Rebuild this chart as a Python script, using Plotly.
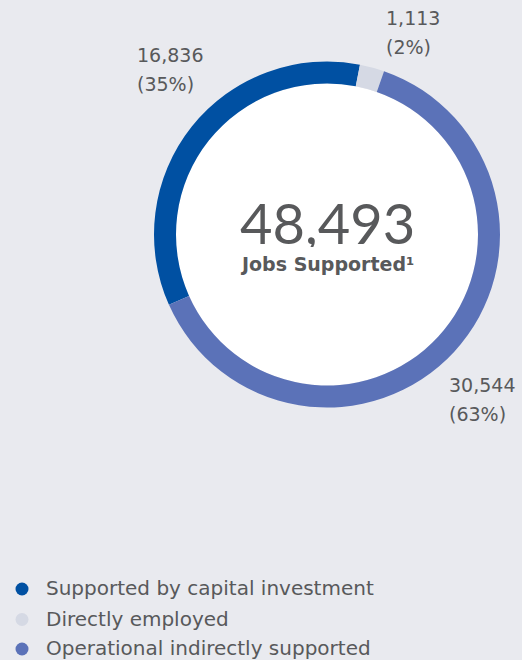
import plotly.graph_objects as go

# Jobs supported, by category
categories = ["Supported by capital investment", "Directly employed", "Operational indirectly supported"]
jobs = [16836, 1113, 30544]
shares = ["35%", "2%", "63%"]
colors = ["#0050a2", "#d5d9e4", "#5b72b8"]
total_jobs = 48493

BG = "#e9eaef"
TXT = "#58595b"
FONT = "DejaVu Sans"
W, H = 522, 660

cx, cy, r_out, r_in = 327, 234.5, 173, 151


def px(x):
    return x / W


def py(y):
    return 1 - y / H


fig = go.Figure()
fig.add_trace(go.Pie(
    labels=categories,
    values=jobs,
    sort=False,
    direction="clockwise",
    rotation=-114,
    hole=r_in / r_out,
    marker=dict(colors=colors, line=dict(width=0)),
    textinfo="none",
    hoverinfo="label+value+percent",
    showlegend=False,
    domain=dict(x=[px(cx - r_out), px(cx + r_out)], y=[py(cy + r_out), py(cy - r_out)]),
))

shapes = [dict(type="circle", xref="paper", yref="paper", layer="below",
               x0=px(cx - r_in), x1=px(cx + r_in), y0=py(cy + r_in), y1=py(cy - r_in),
               fillcolor="white", line=dict(width=0))]

annotations = []
# Value labels around the ring
label_pos = [(135, 55), (384, 18), (447, 385)]
for (x, y), v, s in zip(label_pos, jobs, shares):
    annotations.append(dict(x=px(x), y=py(y), xref="paper", yref="paper", xanchor="left", yanchor="middle",
                            text=f"{v:,}", showarrow=False, font=dict(family=FONT, size=19, color=TXT)))
    annotations.append(dict(x=px(x), y=py(y + 29), xref="paper", yref="paper", xanchor="left", yanchor="middle",
                            text=f"({s})", showarrow=False, font=dict(family=FONT, size=19, color=TXT)))

# Centre total
annotations.append(dict(x=px(cx), y=py(222), xref="paper", yref="paper", xanchor="center", yanchor="middle",
                        text=f"{total_jobs:,}", showarrow=False, height=50,
                        font=dict(family="Lato", size=56, color=TXT)))
annotations.append(dict(x=px(cx), y=py(264), xref="paper", yref="paper", xanchor="center", yanchor="middle",
                        text="<b>Jobs Supported¹</b>", showarrow=False, height=22,
                        font=dict(family="DejaVu Sans", size=19, color=TXT)))

# Legend
legend_y = [589, 619.5, 649]
for c, name, y in zip(colors, categories, legend_y):
    shapes.append(dict(type="circle", xref="paper", yref="paper",
                       x0=px(15.5), x1=px(28.5), y0=py(y + 6.5), y1=py(y - 6.5),
                       fillcolor=c, line=dict(width=0)))
    annotations.append(dict(x=px(44), y=py(y - 1), xref="paper", yref="paper", xanchor="left", yanchor="middle",
                            text=name, showarrow=False, font=dict(family=FONT, size=20, color=TXT)))

fig.update_layout(
    width=W, height=H,
    margin=dict(l=0, r=0, t=0, b=0),
    paper_bgcolor=BG, plot_bgcolor=BG,
    shapes=shapes, annotations=annotations,
)

fig.write_html("out.html")
